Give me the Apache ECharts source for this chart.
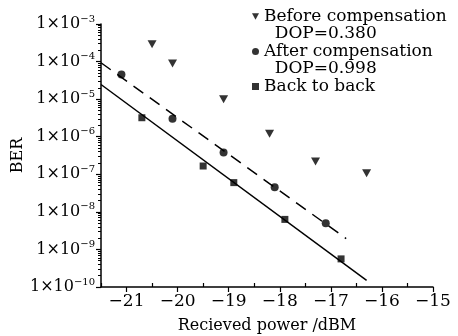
<!DOCTYPE html>
<html>
<head>
<meta charset="utf-8">
<script src="https://cdn.jsdelivr.net/npm/echarts@6/dist/echarts.min.js"></script>
<style>
  html, body { margin: 0; padding: 0; background: #fff; }
  #chart { width: 458px; height: 336px; }
</style>
</head>
<body>
<div id="chart"></div>
<script>
// values
const beforeX = [-20.5, -20.1, -19.1, -18.2, -17.3, -16.3];
const beforeY = [2.9e-4, 8.9e-5, 1.0e-5, 1.2e-6, 2.2e-7, 1.07e-7];
const afterX = [-21.1, -20.1, -19.1, -18.1, -17.1];
const afterY = [4.5e-5, 3.0e-6, 3.8e-7, 4.5e-8, 5.0e-9];
const b2bX = [-20.7, -19.5, -18.9, -17.9, -16.8];
const b2bY = [3.2e-6, 1.66e-7, 6.0e-8, 6.3e-9, 5.6e-10];
// fitted lines (end points)
const afterFit = [[-21.5, 9.3e-5], [-16.7, 1.95e-9]];
const b2bFit = [[-21.5, 2.45e-5], [-16.3, 1.5e-10]];

const xTicks = [-21, -20, -19, -18, -17, -16, -15];
const xMinorTicks = [-21.5, -20.5, -19.5, -18.5, -17.5, -16.5, -15.5];
const yExps = [-10, -9, -8, -7, -6, -5, -4, -3];

const yMinor = [];
yExps.slice(0, -1).forEach(e => {
  for (let k = 2; k <= 9; k++) yMinor.push(k * Math.pow(10, e));
});

const font = 'DejaVu Serif';
const zip = (xs, ys) => xs.map((x, i) => [x, ys[i]]);
const minus = v => (v < 0 ? '\u2212' : '') + Math.abs(v);
const triDown = 'path://M0,0 L10,0 L5,9 Z';

const chart = echarts.init(document.getElementById('chart'));
chart.setOption({
  animation: false,
  textStyle: { fontFamily: font, color: '#000' },
  grid: { left: 101, right: 25, top: 24, bottom: 49, outerBoundsMode: 'none' },
  legend: {
    orient: 'vertical',
    left: 252,
    top: 8,
    padding: 0,
    itemWidth: 7,
    itemHeight: 7,
    itemGap: 0.5,
    selectedMode: false,
    textStyle: { fontFamily: font, fontSize: 17, color: '#000' },
    data: [
      { name: 'Before compensation', icon: triDown },
      { name: '  DOP=0.380', icon: 'none' },
      { name: 'After compensation', icon: 'circle' },
      { name: '  DOP=0.998', icon: 'none' },
      { name: 'Back to back', icon: 'rect' }
    ]
  },
  xAxis: [{
    type: 'value',
    min: -21.5,
    max: -15,
    name: 'Recieved power /dBM',
    nameLocation: 'middle',
    nameGap: 31,
    nameTextStyle: { fontFamily: font, fontSize: 16, color: '#000' },
    axisLine: { lineStyle: { color: '#000', width: 1.5 } },
    axisTick: { customValues: xTicks, length: 5, lineStyle: { color: '#000', width: 1.2 } },
    axisLabel: { customValues: xTicks, formatter: minus, fontFamily: font, fontSize: 17, color: '#000', margin: 6 },
    splitLine: { show: false }
  }, {
    type: 'value',
    min: -21.5,
    max: -15,
    position: 'bottom',
    axisLine: { show: false },
    axisTick: { customValues: xMinorTicks, inside: true, length: 4, lineStyle: { color: '#000', width: 1.2 } },
    axisLabel: { show: false },
    splitLine: { show: false }
  }],
  yAxis: [{
    type: 'log',
    min: 1e-10,
    max: 1e-3,
    name: 'BER',
    nameLocation: 'middle',
    nameGap: 75,
    nameMoveOverlap: false,
    nameTextStyle: { fontFamily: font, fontSize: 16, color: '#000' },
    axisLine: { show: true, lineStyle: { color: '#000', width: 1.5 } },
    axisTick: { length: 5, lineStyle: { color: '#000', width: 1.2 } },
    axisLabel: {
      fontFamily: font,
      fontSize: 16,
      color: '#000',
      margin: 6,
      formatter: v => '1×10{s|' + minus(Math.round(Math.log10(v))) + '}',
      rich: { s: { fontFamily: font, fontSize: 10, color: '#000', padding: [0, 0, 10, 0] } }
    },
    splitLine: { show: false }
  }, {
    type: 'log',
    min: 1e-10,
    max: 1e-3,
    position: 'left',
    axisLine: { show: false },
    axisTick: { customValues: yMinor, length: 3, lineStyle: { color: '#000', width: 1 } },
    axisLabel: { show: false },
    splitLine: { show: false }
  }],
  series: [
    {
      name: 'Before compensation',
      type: 'scatter',
      symbol: triDown,
      symbolSize: [9, 8],
      itemStyle: { color: '#000' },
      data: zip(beforeX, beforeY)
    },
    { name: '  DOP=0.380', type: 'scatter', data: [] },
    {
      name: 'After compensation',
      type: 'scatter',
      symbol: 'circle',
      symbolSize: 8,
      itemStyle: { color: '#000' },
      data: zip(afterX, afterY)
    },
    { name: '  DOP=0.998', type: 'scatter', data: [] },
    {
      name: 'Back to back',
      type: 'scatter',
      symbol: 'rect',
      symbolSize: 7,
      itemStyle: { color: '#000' },
      data: zip(b2bX, b2bY)
    },
    {
      type: 'line',
      showSymbol: false,
      symbol: 'none',
      lineStyle: { color: '#000', width: 1.5, type: [12, 8] },
      data: afterFit
    },
    {
      type: 'line',
      showSymbol: false,
      symbol: 'none',
      lineStyle: { color: '#000', width: 1.5 },
      data: b2bFit
    }
  ]
});
</script>
</body>
</html>
